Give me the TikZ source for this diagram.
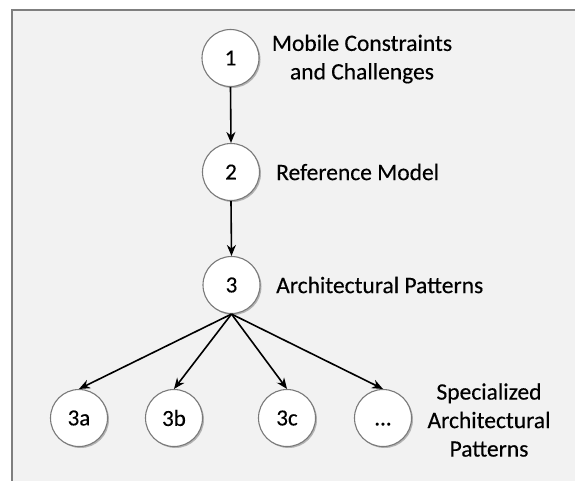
\documentclass[tikz,border=0pt]{standalone}
\usepackage{fontspec}
\setmainfont{Carlito}[UprightFeatures={FakeBold=0.3}]
\usetikzlibrary{arrows.meta,shadows}
\definecolor{panelfill}{HTML}{F2F2F2}
\definecolor{panelrule}{HTML}{7F7F7F}
\definecolor{ringrule}{HTML}{7A7A7A}
\begin{document}
\begin{tikzpicture}[x=1pt,y=-1pt,
  stage/.style={circle,draw=ringrule,line width=1.1pt,fill=white,
    minimum size=57pt,inner sep=0pt,font=\fontsize{23}{28}\selectfont,
    drop shadow={shadow xshift=1.5pt,shadow yshift=-1.5pt,opacity=0.45,fill=black!60}},
  caption/.style={font=\fontsize{23.5}{28.5}\selectfont,align=center,inner sep=0pt},
  flow/.style={-{Stealth[length=11pt,width=9pt]},line width=1.6pt,black}]
  \useasboundingbox (0,0) rectangle (575,480);
  \fill[panelfill] (12,10) rectangle (590,495);
  \draw[panelrule,line width=1.2pt] (12,495) -- (12,10) -- (590,10);

  \node[stage] (n1) at (230.5,58) {1};
  \node[stage] (n2) at (231,172) {2};
  \node[stage] (n3) at (231.5,285) {3};
  \node[stage] (n3a) at (79,418) {3a};
  \node[stage] (n3b) at (174,418) {3b};
  \node[stage] (n3c) at (287,418) {3c};
  \node[stage] (n3d) at (383,418) {\vphantom{3}...};

  \node[caption] (t1) at (362,59) {Mobile Constraints\\and Challenges};
  \node[caption,anchor=west] (t2) at (276,172) {Reference Model};
  \node[caption,anchor=west] (t3) at (276,285) {Architectural Patterns};
  \node[caption] (t4) at (489,420) {Specialized\\Architectural\\Patterns};

  \draw[flow] (n1.south) -- (n2.north);
  \draw[flow] (n2.south) -- (n3.north);
  \draw[flow] (n3.south) -- (n3a.north);
  \draw[flow] (n3.south) -- (n3b.north);
  \draw[flow] (n3.south) -- (n3c.north);
  \draw[flow] (n3.south) -- (n3d.north);
\end{tikzpicture}
\end{document}
